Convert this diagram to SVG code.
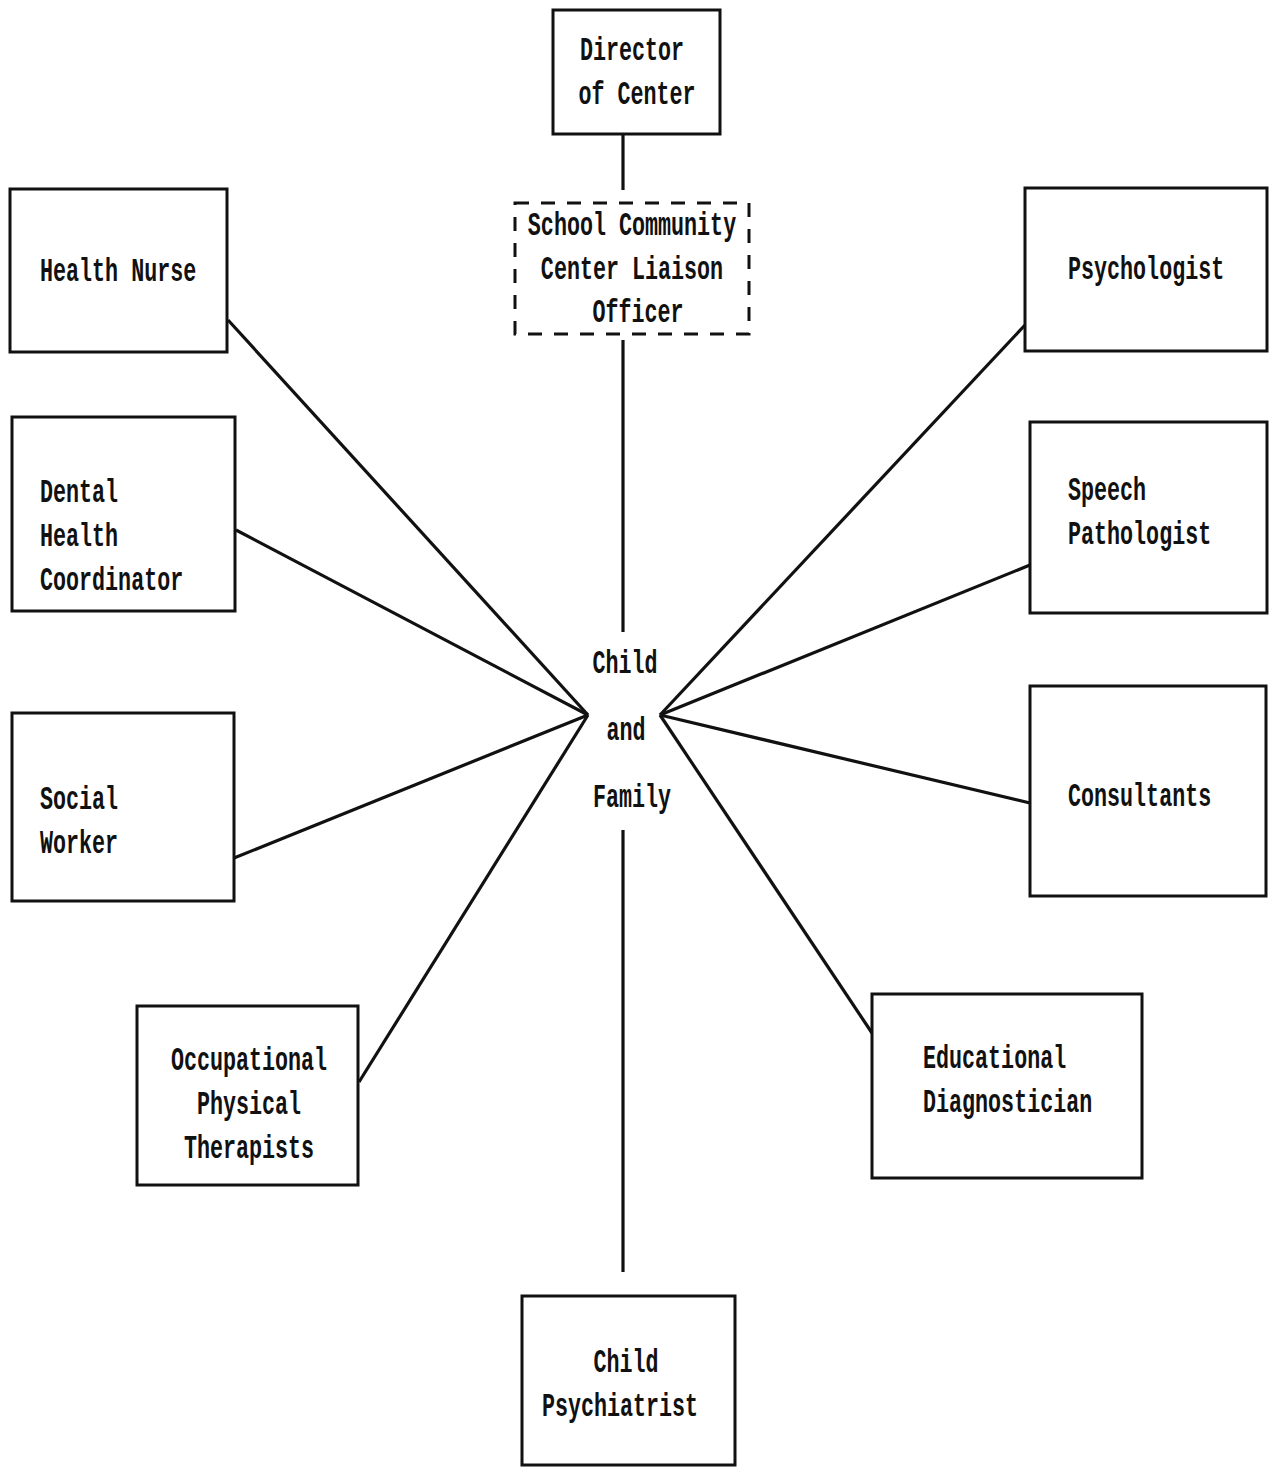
<svg xmlns="http://www.w3.org/2000/svg" width="1270" height="1467" viewBox="0 0 1270 1467">
<style>
.box{fill:none;stroke:#111;stroke-width:3}
.dash{fill:none;stroke:#111;stroke-width:3;stroke-dasharray:14 12}
.ln{stroke:#111;stroke-width:3.2;fill:none}
text{font-family:"Liberation Mono","DejaVu Sans Mono",monospace;font-size:21.7px;font-weight:bold;fill:#111}
.m{text-anchor:middle}
</style>
<rect width="1270" height="1467" fill="#fff"/>
<g id="connectors">
<line class="ln" x1="623" y1="134" x2="623" y2="190"/>
<line class="ln" x1="623" y1="340" x2="623" y2="632"/>
<line class="ln" x1="623" y1="830" x2="623" y2="1272"/>
<line class="ln" x1="228" y1="320" x2="588" y2="715"/>
<line class="ln" x1="236" y1="530" x2="588" y2="715"/>
<line class="ln" x1="234" y1="858" x2="588" y2="715"/>
<line class="ln" x1="359" y1="1082" x2="588" y2="715"/>
<line class="ln" x1="1025" y1="325" x2="660" y2="715"/>
<line class="ln" x1="1030" y1="565" x2="660" y2="715"/>
<line class="ln" x1="1030" y1="803" x2="660" y2="715"/>
<line class="ln" x1="872" y1="1033" x2="660" y2="715"/>
</g>
<g id="director">
<rect class="box" x="553" y="10" width="167" height="124"/>
<text class="m" transform="translate(632 60) scale(1 1.5)">Director</text>
<text class="m" transform="translate(637 104) scale(1 1.5)">of Center</text>
</g>
<g id="liaison">
<rect class="dash" x="515" y="203" width="234" height="131"/>
<text class="m" transform="translate(632 235) scale(1 1.5)">School Community</text>
<text class="m" transform="translate(632 279) scale(1 1.5)">Center Liaison</text>
<text class="m" transform="translate(638 322) scale(1 1.5)">Officer</text>
</g>
<g id="center">
<text class="m" transform="translate(625 673) scale(1 1.5)">Child</text>
<text class="m" transform="translate(626 740) scale(1 1.5)">and</text>
<text class="m" transform="translate(632 807) scale(1 1.5)">Family</text>
</g>
<g id="health-nurse">
<rect class="box" x="10" y="189" width="217" height="163"/>
<text transform="translate(40 281) scale(1 1.5)">Health Nurse</text>
</g>
<g id="dental">
<rect class="box" x="12" y="417" width="223" height="194"/>
<text transform="translate(40 502) scale(1 1.5)">Dental</text>
<text transform="translate(40 546) scale(1 1.5)">Health</text>
<text transform="translate(40 590) scale(1 1.5)">Coordinator</text>
</g>
<g id="social-worker">
<rect class="box" x="12" y="713" width="222" height="188"/>
<text transform="translate(40 809) scale(1 1.5)">Social</text>
<text transform="translate(40 853) scale(1 1.5)">Worker</text>
</g>
<g id="therapists">
<rect class="box" x="137" y="1006" width="221" height="179"/>
<text class="m" transform="translate(249 1070) scale(1 1.5)">Occupational</text>
<text class="m" transform="translate(249 1114) scale(1 1.5)">Physical</text>
<text class="m" transform="translate(249 1158) scale(1 1.5)">Therapists</text>
</g>
<g id="psychologist">
<rect class="box" x="1025" y="188" width="242" height="163"/>
<text transform="translate(1068 279) scale(1 1.5)">Psychologist</text>
</g>
<g id="speech">
<rect class="box" x="1030" y="422" width="237" height="191"/>
<text transform="translate(1068 500) scale(1 1.5)">Speech</text>
<text transform="translate(1068 544) scale(1 1.5)">Pathologist</text>
</g>
<g id="consultants">
<rect class="box" x="1030" y="686" width="236" height="210"/>
<text transform="translate(1068 806) scale(1 1.5)">Consultants</text>
</g>
<g id="educational">
<rect class="box" x="872" y="994" width="270" height="184"/>
<text transform="translate(923 1068) scale(1 1.5)">Educational</text>
<text transform="translate(923 1112) scale(1 1.5)">Diagnostician</text>
</g>
<g id="child-psychiatrist">
<rect class="box" x="522" y="1296" width="213" height="169"/>
<text class="m" transform="translate(626 1372) scale(1 1.5)">Child</text>
<text class="m" transform="translate(620 1416) scale(1 1.5)">Psychiatrist</text>
</g>
</svg>
